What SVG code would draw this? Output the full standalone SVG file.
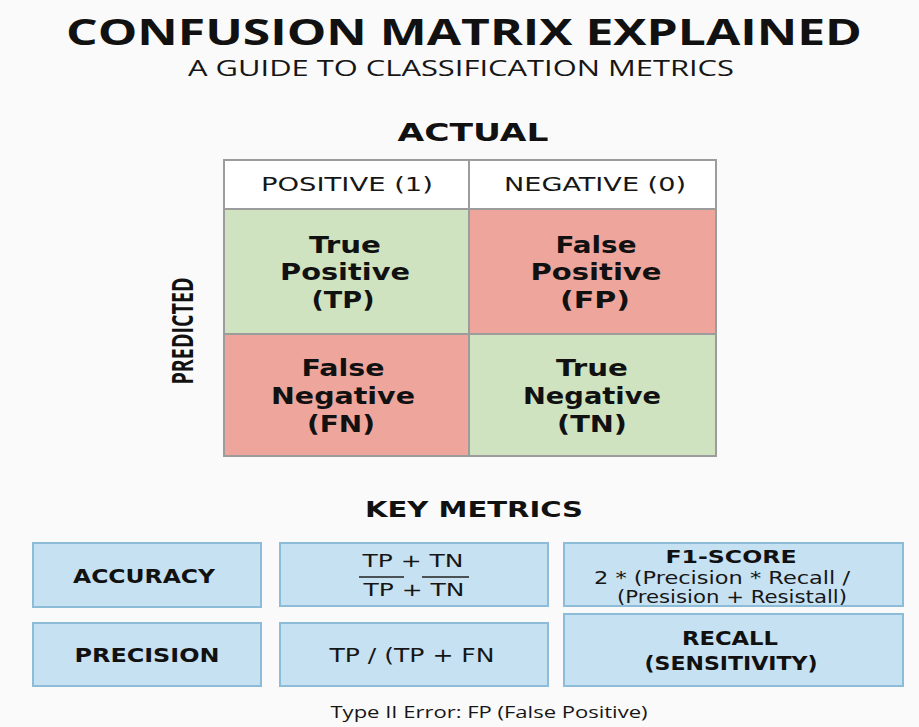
<svg xmlns="http://www.w3.org/2000/svg" width="919" height="727" viewBox="0 0 919 727">
  <style>
    .title { font-family: "Open Sans", "Noto Sans", sans-serif; font-weight: 700; fill: #111; }
    .sub { font-family: "Open Sans", "Noto Sans", sans-serif; font-weight: 400; fill: #161616; }
    .hb { font-family: "DejaVu Sans", Verdana, sans-serif; font-weight: 700; fill: #111; }
    .hr { font-family: "DejaVu Sans", Verdana, sans-serif; font-weight: 400; fill: #161616; }
    .cell { stroke: #9c9c9c; stroke-width: 2; }
    .pos { fill: #cfe3c0; }
    .neg { fill: #eea59c; }
    .head { fill: #ffffff; }
    .metric { fill: #c6e1f2; stroke: #8dbcd8; stroke-width: 2; }
    .rule { stroke: #222; stroke-width: 1.6; }
  </style>

  <rect x="0" y="0" width="919" height="727" fill="#fafafa"/>

  <!-- headings -->
  <g id="heading">
    <text class="title" x="464" y="45" font-size="35" text-anchor="middle" textLength="796" lengthAdjust="spacingAndGlyphs">CONFUSION MATRIX EXPLAINED</text>
    <text class="sub" x="461" y="76" font-size="21" text-anchor="middle" textLength="546" lengthAdjust="spacingAndGlyphs">A GUIDE TO CLASSIFICATION METRICS</text>
  </g>

  <!-- matrix axis labels -->
  <g id="axis-actual">
    <text class="hb" x="473" y="141" font-size="25" text-anchor="middle" textLength="151" lengthAdjust="spacingAndGlyphs">ACTUAL</text>
  </g>
  <g id="axis-predicted">
    <text class="title" transform="translate(193 331) rotate(-90)" x="0" y="0" font-size="28" text-anchor="middle" textLength="107" lengthAdjust="spacingAndGlyphs">PREDICTED</text>
  </g>

  <!-- column headers -->
  <g id="header-positive">
    <rect class="cell head" x="224" y="160" width="245" height="49"/>
    <text class="hr" x="347" y="191" font-size="20" text-anchor="middle" textLength="172" lengthAdjust="spacingAndGlyphs">POSITIVE (1)</text>
  </g>
  <g id="header-negative">
    <rect class="cell head" x="469" y="160" width="247" height="49"/>
    <text class="hr" x="595" y="191" font-size="20" text-anchor="middle" textLength="182" lengthAdjust="spacingAndGlyphs">NEGATIVE (0)</text>
  </g>

  <!-- matrix cells -->
  <g id="cell-tp">
    <rect class="cell pos" x="224" y="209" width="245" height="125"/>
    <text class="hb" x="345" y="253" font-size="23" text-anchor="middle" textLength="72" lengthAdjust="spacingAndGlyphs">True</text>
    <text class="hb" x="345" y="280" font-size="23" text-anchor="middle" textLength="130" lengthAdjust="spacingAndGlyphs">Positive</text>
    <text class="hb" x="343" y="308" font-size="23" text-anchor="middle" textLength="63" lengthAdjust="spacingAndGlyphs">(TP)</text>
  </g>
  <g id="cell-fp">
    <rect class="cell neg" x="469" y="209" width="247" height="125"/>
    <text class="hb" x="596" y="253" font-size="23" text-anchor="middle" textLength="81" lengthAdjust="spacingAndGlyphs">False</text>
    <text class="hb" x="596" y="280" font-size="23" text-anchor="middle" textLength="131" lengthAdjust="spacingAndGlyphs">Positive</text>
    <text class="hb" x="595" y="308" font-size="23" text-anchor="middle" textLength="70" lengthAdjust="spacingAndGlyphs">(FP)</text>
  </g>
  <g id="cell-fn">
    <rect class="cell neg" x="224" y="334" width="245" height="122"/>
    <text class="hb" x="343" y="376" font-size="23" text-anchor="middle" textLength="83" lengthAdjust="spacingAndGlyphs">False</text>
    <text class="hb" x="343" y="404" font-size="23" text-anchor="middle" textLength="144" lengthAdjust="spacingAndGlyphs">Negative</text>
    <text class="hb" x="341" y="432" font-size="23" text-anchor="middle" textLength="68" lengthAdjust="spacingAndGlyphs">(FN)</text>
  </g>
  <g id="cell-tn">
    <rect class="cell pos" x="469" y="334" width="247" height="122"/>
    <text class="hb" x="592" y="376" font-size="23" text-anchor="middle" textLength="72" lengthAdjust="spacingAndGlyphs">True</text>
    <text class="hb" x="592" y="404" font-size="23" text-anchor="middle" textLength="138" lengthAdjust="spacingAndGlyphs">Negative</text>
    <text class="hb" x="592" y="432" font-size="23" text-anchor="middle" textLength="70" lengthAdjust="spacingAndGlyphs">(TN)</text>
  </g>

  <!-- metrics section -->
  <g id="metrics-title">
    <text class="hb" x="474" y="517" font-size="22" text-anchor="middle" textLength="218" lengthAdjust="spacingAndGlyphs">KEY METRICS</text>
  </g>

  <g id="accuracy">
    <rect class="metric" x="33" y="543" width="228" height="64"/>
    <text class="hb" x="144" y="583" font-size="19" text-anchor="middle" textLength="142" lengthAdjust="spacingAndGlyphs">ACCURACY</text>
  </g>
  <g id="accuracy-formula">
    <rect class="metric" x="280" y="543" width="268" height="63"/>
    <text class="hr" x="413" y="567" font-size="18" text-anchor="middle" textLength="101" lengthAdjust="spacingAndGlyphs">TP + TN</text>
    <line class="rule" x1="359" y1="577" x2="404" y2="577"/>
    <line class="rule" x1="422" y1="577" x2="469" y2="577"/>
    <text class="hr" x="414" y="596" font-size="18" text-anchor="middle" textLength="101" lengthAdjust="spacingAndGlyphs">TP + TN</text>
  </g>
  <g id="f1-score">
    <rect class="metric" x="564" y="543" width="339" height="63"/>
    <text class="hb" x="731" y="563" font-size="17" text-anchor="middle" textLength="131" lengthAdjust="spacingAndGlyphs">F1-SCORE</text>
    <text class="hr" x="722" y="584" font-size="17" text-anchor="middle" textLength="256" lengthAdjust="spacingAndGlyphs">2 * (Precision * Recall /</text>
    <text class="hr" x="732" y="603" font-size="17" text-anchor="middle" textLength="230" lengthAdjust="spacingAndGlyphs">(Presision + Resistall)</text>
  </g>

  <g id="precision">
    <rect class="metric" x="33" y="623" width="228" height="63"/>
    <text class="hb" x="147" y="662" font-size="19" text-anchor="middle" textLength="145" lengthAdjust="spacingAndGlyphs">PRECISION</text>
  </g>
  <g id="precision-formula">
    <rect class="metric" x="280" y="623" width="268" height="63"/>
    <text class="hr" x="412" y="662" font-size="19" text-anchor="middle" textLength="165" lengthAdjust="spacingAndGlyphs">TP / (TP + FN</text>
  </g>
  <g id="recall">
    <rect class="metric" x="564" y="614" width="339" height="72"/>
    <text class="hb" x="730" y="645" font-size="19" text-anchor="middle" textLength="96" lengthAdjust="spacingAndGlyphs">RECALL</text>
    <text class="hb" x="731" y="670" font-size="19" text-anchor="middle" textLength="173" lengthAdjust="spacingAndGlyphs">(SENSITIVITY)</text>
  </g>

  <g id="footnote">
    <text class="sub" x="489" y="718" font-size="16" text-anchor="middle" textLength="317" lengthAdjust="spacingAndGlyphs">Type II Error: FP (False Positive)</text>
  </g>
</svg>
